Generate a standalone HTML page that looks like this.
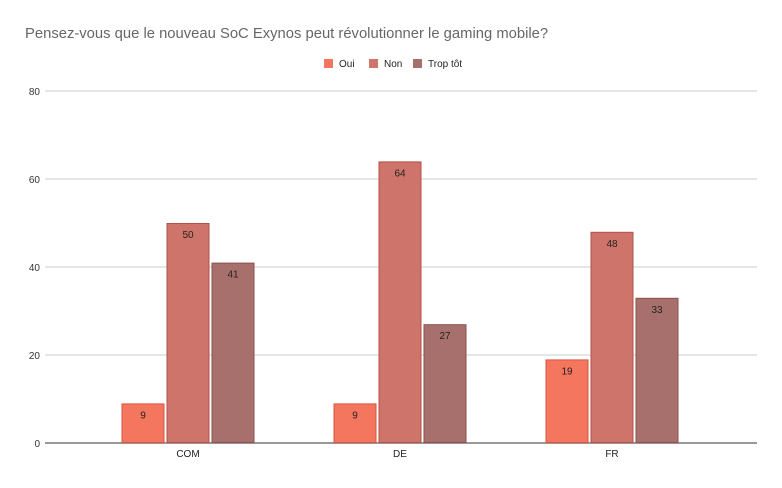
<!DOCTYPE html>
<html><head><meta charset="utf-8"><style>
body{margin:0;background:#fff;font-family:"Liberation Sans",sans-serif}
svg text{font-family:"Liberation Sans",sans-serif}
</style></head><body>
<svg width="782" height="483" viewBox="0 0 782 483">
<text x="25" y="38" font-size="14.8" fill="#666">Pensez-vous que le nouveau SoC Exynos peut révolutionner le gaming mobile?</text>
<g id="legend"></g>
<g id="grid"></g>
<g id="bars"></g>
<g id="xlabels"></g>
</svg>
<script>
const categories=["COM","DE","FR"];
const seriesNames=["Oui","Non","Trop tôt"];
const oui=[9,9,19];
const non=[50,64,48];
const trop=[41,27,33];
const yTicks=[0,20,40,60,80];
const colors=["#f4765f","#cf746a","#a8706d"];
const borders=["#d9533f","#b45148","#8c4f4c"];
const ns="http://www.w3.org/2000/svg";
const X0=45,X1=757,Y0=443,Y1=91,YMAX=80;
const C0=82,C1=718;
const y=v=>Y0-(v/YMAX)*(Y0-Y1);
const gw=(C1-C0)/categories.length;
const xc=i=>C0+gw*(i+0.5);
function mk(t,a,p){const e=document.createElementNS(ns,t);for(const k in a)e.setAttribute(k,a[k]);p.appendChild(e);return e;}
const grid=document.getElementById('grid');
yTicks.forEach(t=>{
 const l=mk('line',{x1:X0,x2:X1,y1:y(t),y2:y(t),stroke:t===0?'#333':'#ccc','stroke-width':1},grid);
 
 
 const tx=mk('text',{x:40,y:y(t)+4,'text-anchor':'end','font-size':10,fill:'#333'},grid);
 tx.textContent=t;
 
 
});
const series=[oui,non,trop];
const bw=43,gap=2;
const bars=document.getElementById('bars');
categories.forEach((c,i)=>{
 series.forEach((s,j)=>{
  const bx=xc(i)+(j-1)*(bw+gap)-bw/2;
  const r=mk('rect',{x:bx+0.5,y:y(s[i])+0.5,width:bw-1,height:Y0-y(s[i])-1,fill:colors[j],stroke:borders[j],'stroke-width':1},bars);
  
  
  const t=mk('text',{x:bx+bw/2,y:y(s[i])+15,'text-anchor':'middle','font-size':10,fill:'#222'},bars);
  t.textContent=s[i];
  
  
 });
 const xl=mk('text',{x:xc(i),y:457,'text-anchor':'middle','font-size':10,fill:'#222'},document.getElementById('xlabels'));
 xl.textContent=c;
 
 
});
const lg=document.getElementById('legend');
const lx=[324,369,413];
seriesNames.forEach((n,j)=>{
 const r=mk('rect',{x:lx[j],y:59,width:9,height:9,fill:colors[j]},lg);
 
 
 const t=mk('text',{x:lx[j]+15,y:67,'font-size':10,fill:'#222'},lg);
 t.textContent=n;
 
 
});
</script>
</body></html>
